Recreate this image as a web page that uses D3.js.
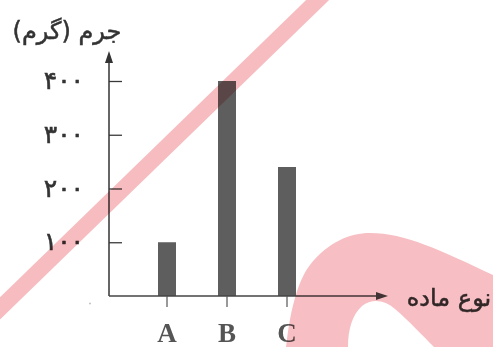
<!DOCTYPE html>
<html>
<head>
<meta charset="utf-8">
<script src="https://cdn.jsdelivr.net/npm/d3@7"></script>
<style>
  body { margin: 0; background: #fff; }
  svg { display: block; }
</style>
</head>
<body>
<div id="chart"></div>
<script>
const categories = ["A", "B", "C"];
const masses = [100, 400, 240];
const yTicks = [100, 200, 300, 400];
const yTickLabels = ["۱۰۰", "۲۰۰", "۳۰۰", "۴۰۰"];
const yTitle = "جرم (گرم)";
const xTitle = "نوع ماده";

function draw() {
  const width = 493;
  const height = 347;
  const axisX = 109;

  const x = d3.scalePoint().domain(categories).range([167, 287]);
  const y = d3.scaleLinear().domain([0, 400]).range([296, 81]);

  const svg = d3.select("#chart")
    .append("svg")
    .attr("width", width)
    .attr("height", height);

  // bars
  svg.append("g")
    .selectAll("rect")
    .data(categories)
    .join("rect")
    .attr("x", d => x(d) - 9)
    .attr("width", 18)
    .attr("y", (d, i) => y(masses[i]))
    .attr("height", (d, i) => y(0) - y(masses[i]))
    .attr("fill", "#5e5e5e");

  // y axis, ticks cross the line
  const yAxis = svg.append("g")
    .attr("transform", `translate(${axisX},0)`)
    .call(d3.axisLeft(y)
      .tickValues(yTicks)
      .tickFormat((d, i) => yTickLabels[i])
      .tickSize(9)
      .tickPadding(16));
  yAxis.select(".domain").remove();
  yAxis.selectAll(".tick line")
    .attr("x2", 13)
    .attr("stroke", "#3a3a3a")
    .attr("stroke-width", 1.3);
  yAxis.selectAll(".tick text")
    .attr("font-family", "DejaVu Sans")
    .attr("font-size", 25)
    .attr("letter-spacing", -1)
    .attr("dy", "0.3em")
    .attr("fill", "#333")
    .attr("stroke", "#333")
    .attr("stroke-width", 0.6);

  // axis lines with arrows
  svg.append("line")
    .attr("x1", axisX).attr("x2", axisX)
    .attr("y1", y(0)).attr("y2", 60)
    .attr("stroke", "#333").attr("stroke-width", 1.5);
  svg.append("path")
    .attr("d", `M${axisX},51 L${axisX - 4},63 L${axisX + 4},63 Z`)
    .attr("fill", "#333");

  svg.append("line")
    .attr("x1", axisX).attr("x2", 378)
    .attr("y1", y(0)).attr("y2", y(0))
    .attr("stroke", "#444").attr("stroke-width", 1.5);
  svg.append("path")
    .attr("d", `M388,${y(0)} L376,${y(0) - 4} L376,${y(0) + 4} Z`)
    .attr("fill", "#444");

  // category ticks and labels
  svg.append("g")
    .selectAll("line")
    .data(categories)
    .join("line")
    .attr("x1", d => x(d)).attr("x2", d => x(d))
    .attr("y1", y(0)).attr("y2", y(0) + 11)
    .attr("stroke", "#555").attr("stroke-width", 1.2);

  svg.append("g")
    .selectAll("text")
    .data(categories)
    .join("text")
    .attr("x", d => x(d))
    .attr("y", 342)
    .attr("text-anchor", "middle")
    .attr("font-family", "Liberation Serif")
    .attr("font-weight", "bold")
    .attr("font-size", 27)
    .attr("fill", "#555")
    .text(d => d);

  svg.append("text")
    .attr("x", 90)
    .attr("y", 307)
    .attr("text-anchor", "middle")
    .attr("font-family", "DejaVu Sans")
    .attr("font-size", 12)
    .attr("fill", "#aaa")
    .text("۰");

  // titles
  svg.append("text")
    .attr("x", 67)
    .attr("y", 39)
    .attr("text-anchor", "middle")
    .attr("font-family", "DejaVu Sans")
    .attr("font-size", 24)
    .attr("fill", "#333")
    .attr("stroke", "#333")
    .attr("stroke-width", 0.5)
    .text(yTitle);

  svg.append("text")
    .attr("x", 449)
    .attr("y", 306)
    .attr("text-anchor", "middle")
    .attr("font-family", "DejaVu Sans")
    .attr("font-size", 24)
    .attr("fill", "#333")
    .attr("stroke", "#333")
    .attr("stroke-width", 0.5)
    .text(xTitle);

  // watermark
  const mark = svg.append("g").style("mix-blend-mode", "multiply");
  mark.append("line")
    .attr("x1", -10).attr("y1", 318)
    .attr("x2", 330).attr("y2", -12)
    .attr("stroke", "#f6bcc0")
    .attr("stroke-width", 16);
  mark.append("path")
    .attr("fill-rule", "evenodd")
    .attr("fill", "#f7bfc3")
    .attr("d", "M286,347 C290,310 298,280 310,265 C328,242 350,233 370,233 " +
      "C405,233 440,250 493,275 L493,347 Z " +
      "M348,347 C348,330 352,315 362,306 C372,298 385,300 395,309 " +
      "C410,322 422,335 434,347 Z");
}
draw();
</script>
</body>
</html>
